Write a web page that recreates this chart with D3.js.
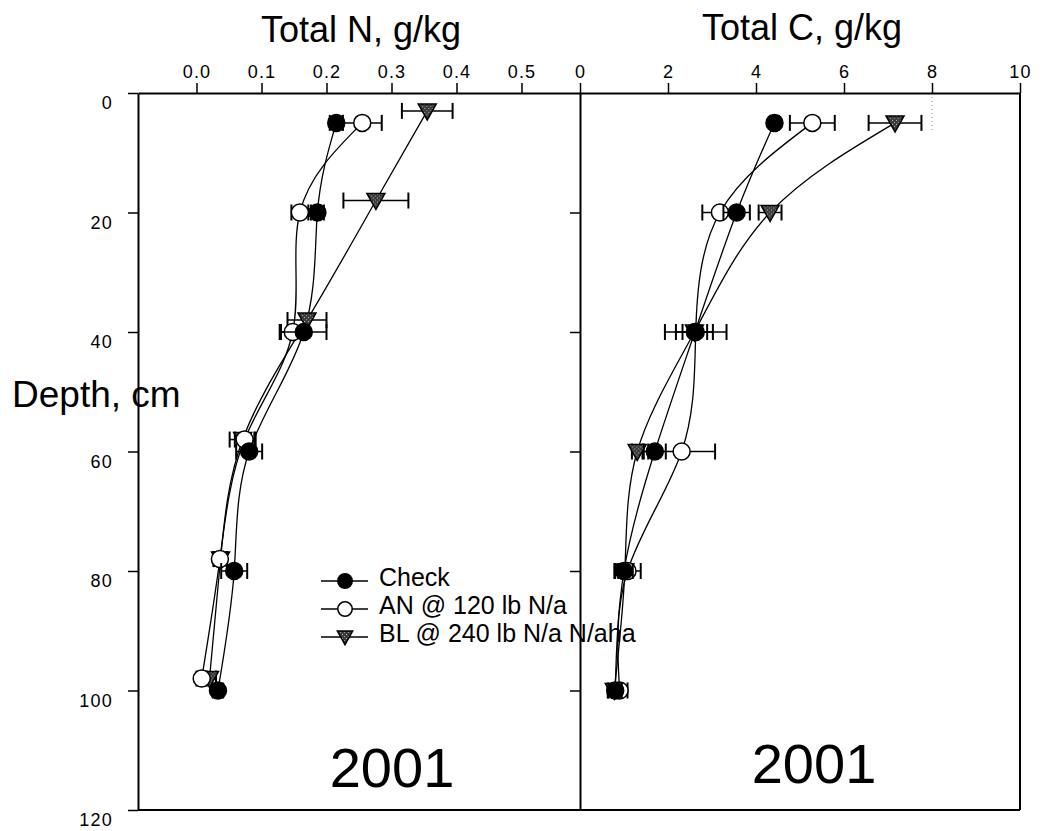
<!DOCTYPE html>
<html>
<head>
<meta charset="utf-8">
<script src="https://cdn.jsdelivr.net/npm/d3@7"></script>
<style>
  html, body { margin: 0; padding: 0; background: #fff; }
  svg { display: block; }
  text { font-family: Arial, "Liberation Sans", sans-serif; fill: #000; }
</style>
</head>
<body>
<svg id="chart" width="1040" height="831"></svg>
<script>
// Tick values
const depthTicks = [0, 20, 40, 60, 80, 100, 120];
const nTicks = [0, 0.1, 0.2, 0.3, 0.4, 0.5];
const cTicks = [0, 2, 4, 6, 8, 10];

// Treatments
const seriesNames = ["Check", "AN @ 120 lb N/a", "BL @ 240 lb N/a N/aha"];

// Total N (g/kg) by depth (cm), mean and standard error
const nCheckDepth = [5, 20, 40, 60, 80, 100];
const nCheck      = [0.215, 0.186, 0.165, 0.081, 0.058, 0.033];
const nCheckErr   = [0.010, 0.010, 0.035, 0.020, 0.020, 0.008];

const nANDepth = [5, 20, 40, 58, 78, 98];
const nAN      = [0.255, 0.159, 0.148, 0.074, 0.036, 0.008];
const nANErr   = [0.030, 0.013, 0.020, 0.015, 0.010, 0.008];

const nBLDepth = [3, 18, 38, 58, 78, 98];
const nBL      = [0.355, 0.276, 0.170, 0.071, 0.037, 0.020];
const nBLErr   = [0.039, 0.050, 0.030, 0.020, 0.010, 0.010];

// Total C (g/kg) by depth (cm), mean and standard error
const cCheckDepth = [5, 20, 40, 60, 80, 100];
const cCheck      = [4.42, 3.56, 2.61, 1.70, 1.00, 0.80];
const cCheckErr   = [0.10, 0.30, 0.28, 0.25, 0.20, 0.15];

const cANDepth = [5, 20, 40, 60, 80, 100];
const cAN      = [5.28, 3.18, 2.63, 2.31, 1.08, 0.90];
const cANErr   = [0.51, 0.40, 0.70, 0.76, 0.30, 0.18];

const cBLDepth = [5, 20, 40, 60, 80, 100];
const cBL      = [7.16, 4.32, 2.60, 1.30, 1.02, 0.78];
const cBLErr   = [0.60, 0.26, 0.42, 0.12, 0.15, 0.15];

const svg = d3.select("#chart");

// Speckled grey fill for the triangle markers
const defs = svg.append("defs");
const pat = defs.append("pattern")
  .attr("id", "speckle").attr("patternUnits", "userSpaceOnUse")
  .attr("width", 4).attr("height", 4);
pat.append("rect").attr("width", 4).attr("height", 4).attr("fill", "#3c3c3c");
pat.append("rect").attr("x", 1).attr("y", 1).attr("width", 1).attr("height", 1).attr("fill", "#bbb");
pat.append("rect").attr("x", 3).attr("y", 3).attr("width", 1).attr("height", 1).attr("fill", "#999");

// Scales
const y = d3.scaleLinear().domain([0, 120]).range([93, 810]);
const xN = d3.scaleLinear().domain([-0.09, 0.59]).range([138, 580]);
const xC = d3.scaleLinear().domain([0, 10]).range([580, 1020]);

const panels = [
  {
    x: xN, ticks: nTicks, fmt: d3.format(".1f"), title: "Total N, g/kg", titleY: 42,
    series: [
      { d: nBLDepth, v: nBL, e: nBLErr, sym: "tri" },
      { d: nANDepth, v: nAN, e: nANErr, sym: "open" },
      { d: nCheckDepth, v: nCheck, e: nCheckErr, sym: "fill" }
    ],
    yearX: 392, yearY: 787
  },
  {
    x: xC, ticks: cTicks, fmt: d3.format("d"), title: "Total C, g/kg", titleY: 40,
    series: [
      { d: cBLDepth, v: cBL, e: cBLErr, sym: "tri" },
      { d: cANDepth, v: cAN, e: cANErr, sym: "open" },
      { d: cCheckDepth, v: cCheck, e: cCheckErr, sym: "fill" }
    ],
    yearX: 814, yearY: 783
  }
];

function drawSymbol(g, sym, cx, cy, s = 1) {
  if (sym === "tri") {
    g.append("path").attr("d", `M${-9 * s},${-7 * s} L${9 * s},${-7 * s} L0,${9 * s} Z`)
      .attr("transform", `translate(${cx},${cy})`)
      .attr("fill", "url(#speckle)").attr("stroke", "#000").attr("stroke-width", 1.5);
  } else {
    g.append("circle").attr("cx", cx).attr("cy", cy).attr("r", 8.5 * s)
      .attr("fill", sym === "fill" ? "#000" : "#fff")
      .attr("stroke", "#000").attr("stroke-width", 1.5);
  }
}

// Faint dotted guide at C = 8 near the top
svg.append("line")
  .attr("x1", xC(8)).attr("x2", xC(8)).attr("y1", y(0)).attr("y2", y(6.5))
  .attr("stroke", "#888").attr("stroke-width", 1).attr("stroke-dasharray", "1,3");

panels.forEach(p => {
  const [x0, x1] = p.x.range();

  // Top axis with labels
  const top = svg.append("g").attr("transform", `translate(0,${y(0)})`)
    .call(d3.axisTop(p.x).tickValues(p.ticks).tickFormat(p.fmt)
      .tickSize(10).tickSizeOuter(0).tickPadding(5));
  top.select(".domain").attr("stroke-width", 2);
  top.selectAll(".tick line").attr("stroke-width", 1.5);
  top.selectAll("text").attr("font-size", 18).attr("letter-spacing", 1.2)
    .attr("font-family", "Arial, 'Liberation Sans', sans-serif");

  // Bottom frame line
  svg.append("line").attr("x1", x0).attr("x2", x1).attr("y1", y(120)).attr("y2", y(120))
    .attr("stroke", "#000").attr("stroke-width", 2);

  // Title
  svg.append("text").attr("x", (x0 + x1) / 2 + 2).attr("y", p.titleY)
    .attr("text-anchor", "middle").attr("font-size", 36).text(p.title);

  // Year label
  svg.append("text").attr("x", p.yearX).attr("y", p.yearY)
    .attr("text-anchor", "middle").attr("font-size", 56).text("2001");

  const line = d3.line()
    .x(d => p.x(d.v)).y(d => y(d.d))
    .curve(d3.curveNatural);

  p.series.forEach(s => {
    const pts = s.d.map((d, i) => ({ d, v: s.v[i], e: s.e[i] }));
    svg.append("path").datum(pts).attr("d", line)
      .attr("fill", "none").attr("stroke", "#000").attr("stroke-width", 1.3);
  });

  p.series.forEach(s => {
    const pts = s.d.map((d, i) => ({ d, v: s.v[i], e: s.e[i] }));
    const g = svg.append("g");
    pts.forEach(pt => {
      const cy = y(pt.d), xl = p.x(pt.v - pt.e), xr = p.x(pt.v + pt.e);
      g.append("line").attr("x1", xl).attr("x2", xr).attr("y1", cy).attr("y2", cy)
        .attr("stroke", "#000").attr("stroke-width", 1.5);
      [xl, xr].forEach(xx => g.append("line")
        .attr("x1", xx).attr("x2", xx).attr("y1", cy - 8).attr("y2", cy + 8)
        .attr("stroke", "#000").attr("stroke-width", 2));
      drawSymbol(g, s.sym, p.x(pt.v), cy);
    });
  });
});

// Depth axis on the left
const left = svg.append("g").attr("transform", `translate(${xN.range()[0]},0)`)
  .call(d3.axisLeft(y).tickValues(depthTicks).tickSize(10).tickSizeOuter(0).tickPadding(15));
left.select(".domain").attr("stroke-width", 2);
left.selectAll(".tick line").attr("stroke-width", 1.5);
left.selectAll("text").attr("font-size", 18).attr("letter-spacing", 1.2)
  .attr("font-family", "Arial, 'Liberation Sans', sans-serif")
  .attr("transform", "translate(0,10)");

// Shared divider between panels
const mid = svg.append("g").attr("transform", `translate(${xC.range()[0]},0)`)
  .call(d3.axisLeft(y).tickValues([20, 40, 60, 80, 100]).tickFormat("").tickSize(10).tickSizeOuter(0));
mid.select(".domain").attr("stroke-width", 2);
mid.selectAll(".tick line").attr("stroke-width", 1.5);

// Right frame
svg.append("line").attr("x1", xC.range()[1]).attr("x2", xC.range()[1])
  .attr("y1", y(0)).attr("y2", y(120)).attr("stroke", "#000").attr("stroke-width", 2);

// Depth label
svg.append("text").attr("x", 12).attr("y", 407).attr("font-size", 37).text("Depth, cm");

// Legend
const legendRows = [581, 609, 637];
const legendSyms = ["fill", "open", "tri"];
const legend = svg.append("g");
seriesNames.forEach((name, i) => {
  const ly = legendRows[i];
  legend.append("line").attr("x1", 321).attr("x2", 368).attr("y1", ly).attr("y2", ly)
    .attr("stroke", "#000").attr("stroke-width", 1.3);
  drawSymbol(legend, legendSyms[i], 345, ly, 0.85);
  legend.append("text").attr("x", 379).attr("y", ly + 5).attr("font-size", 25).text(name);
});
</script>
</body>
</html>
